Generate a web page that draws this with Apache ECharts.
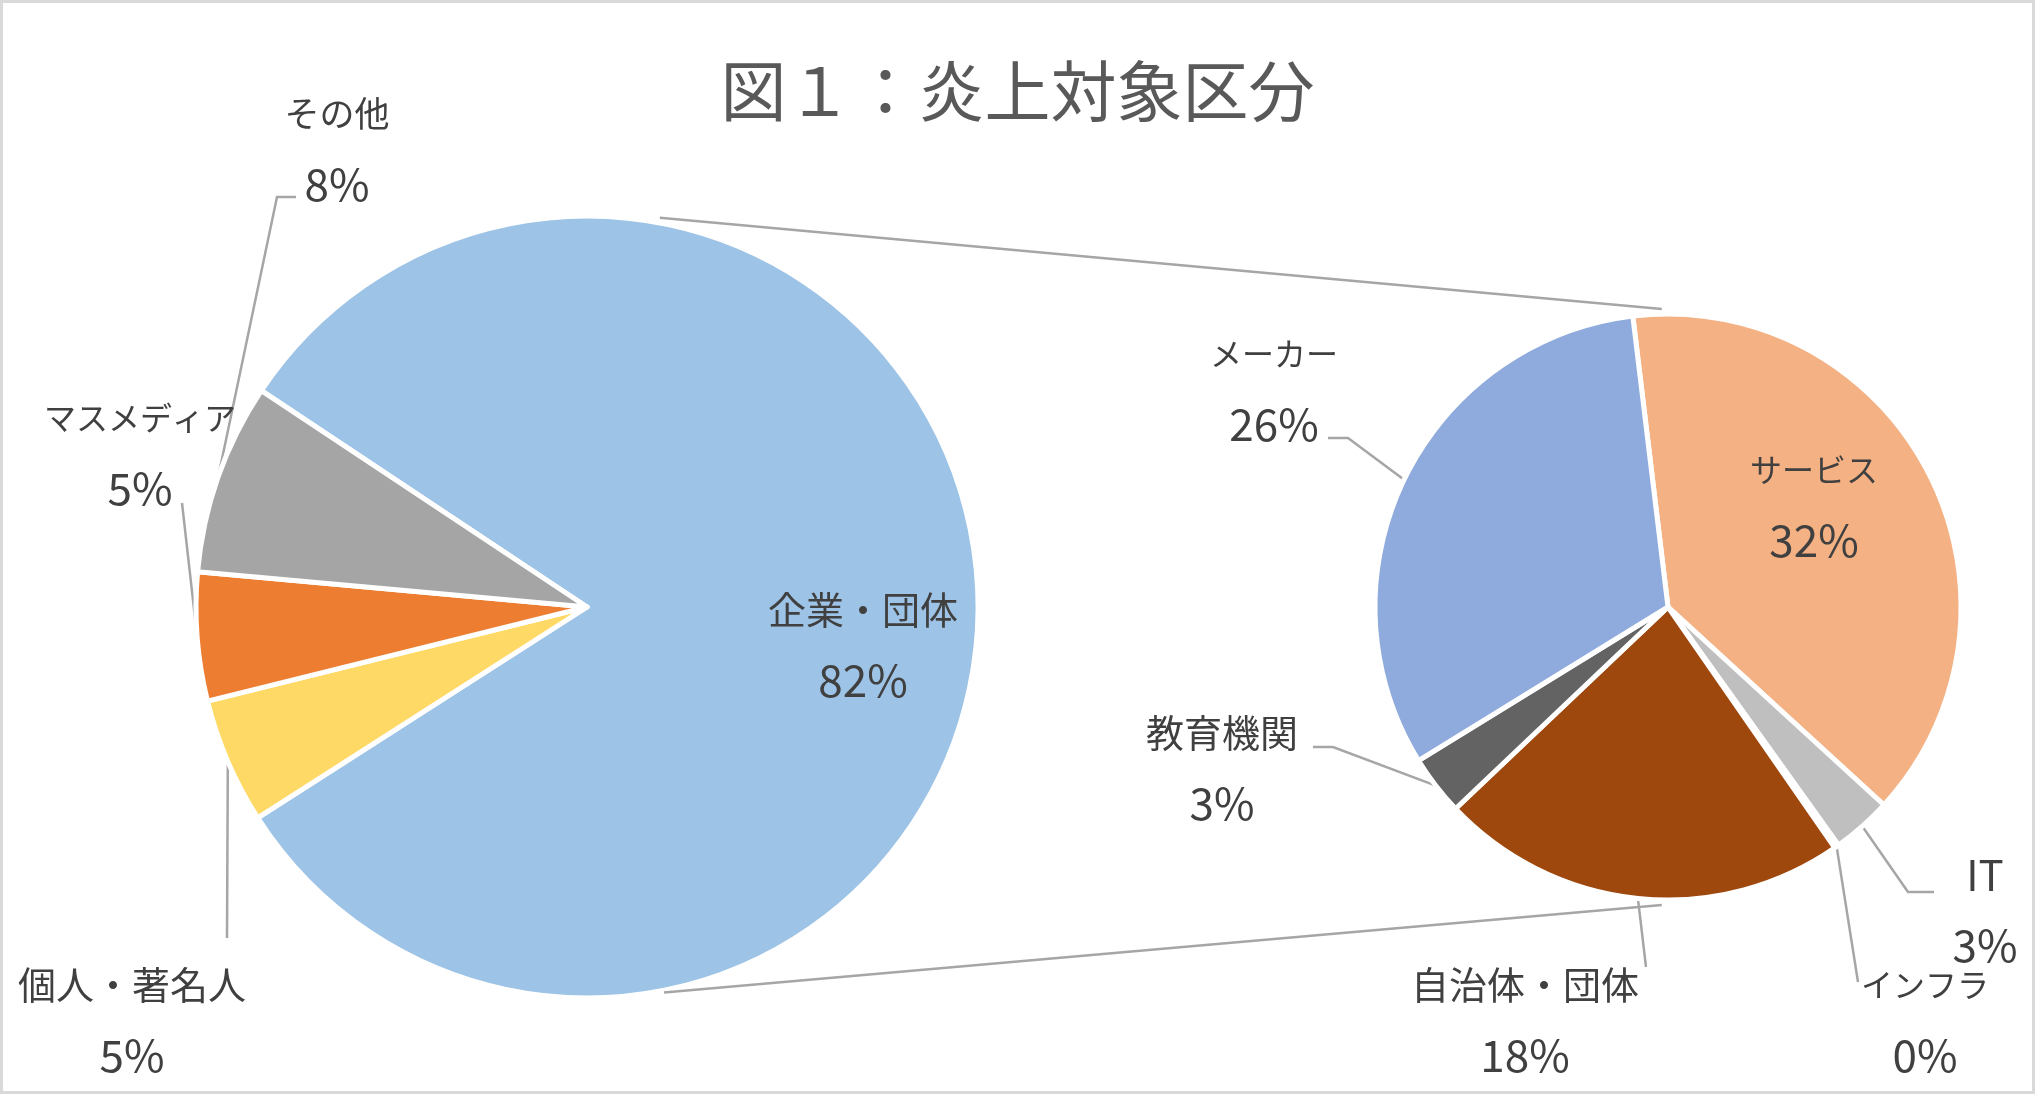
<!DOCTYPE html>
<html>
<head>
<meta charset="utf-8">
<script src="https://cdn.jsdelivr.net/npm/echarts@6/dist/echarts.min.js"></script>
<style>
  html, body { margin: 0; padding: 0; background: #fff; }
  #chart { width: 2035px; height: 1094px; }
</style>
</head>
<body>
<div id="chart"></div>
<script>
// ---------- data ----------
const titleText = '図１：炎上対象区分';
const mainCategories = ['企業・団体', '個人・著名人', 'マスメディア', 'その他'];
const mainValues = [81.6, 5.2, 5.3, 7.9];
const subCategories = ['サービス', 'IT', 'インフラ', '自治体・団体', '教育機関', 'メーカー'];
const subValues = [31.6, 2.7, 0.2, 18.4, 2.7, 26.0];

// ---------- styles / layout ----------
const colors = {
  '企業・団体': '#9DC3E6', '個人・著名人': '#FFD966', 'マスメディア': '#ED7D31', 'その他': '#A5A5A5',
  'サービス': '#F4B183', 'IT': '#BFBFBF', 'インフラ': '#997300', '自治体・団体': '#9E480E',
  '教育機関': '#636363', 'メーカー': '#8FAADC'
};
const insideLabels = ['企業・団体', 'サービス'];
const FONT = '"Noto Sans CJK JP", "Noto Sans", sans-serif';
const LEFT = { cx: 587, cy: 607, r: 391, start: 146.4 };
const RIGHT = { cx: 1668, cy: 607, r: 293, start: 96.9 };
// label block centres
const labelPos = {
  '企業・団体': [863, 645], 'その他': [337, 149], 'マスメディア': [140, 453], '個人・著名人': [132, 1020],
  'サービス': [1814, 505], 'メーカー': [1274, 389], '教育機関': [1222, 768],
  '自治体・団体': [1525, 1020], 'インフラ': [1925, 1020], 'IT': [1985, 910]
};
// leader-line points after the slice anchor
const linePts = {
  'その他': [[277, 197], [296, 197]],
  'マスメディア': [[182, 503]],
  '個人・著名人': [[227, 938]],
  'メーカー': [[1348, 438], [1328, 438]],
  '教育機関': [[1333, 747], [1313, 747]],
  '自治体・団体': [[1646, 967]],
  'インフラ': [[1858, 982]],
  'IT': [[1908, 892], [1934, 892]]
};

const grandTotal = mainValues.reduce((a, b) => a + b, 0);

// name-line text style chosen by script (kana-only names were narrower in the original font)
function nameStyle(name) {
  if (/^[\u30A0-\u30FF]+$/.test(name)) return 'a';
  if (/[\u3040-\u309F]/.test(name)) return 'h';
  if (/^[A-Za-z]+$/.test(name)) return 'l';
  return 'k';
}

function sliceMid(geo, values, idx) {
  const total = values.reduce((a, b) => a + b, 0);
  let acc = 0;
  for (let i = 0; i < idx; i++) acc += values[i];
  const midDeg = geo.start - (acc + values[idx] / 2) / total * 360;
  const rad = midDeg * Math.PI / 180;
  const rr = geo.r - 2;
  return [geo.cx + rr * Math.cos(rad), geo.cy - rr * Math.sin(rad)];
}

function buildData(cats, vals) {
  return cats.map((name, i) => {
    const inside = insideLabels.indexOf(name) >= 0;
    return {
      name: name,
      value: vals[i],
      itemStyle: { color: colors[name] },
      label: { position: inside ? 'inside' : 'outside' },
      labelLine: { show: !inside }
    };
  });
}

function makeLayout(cats, vals, geo) {
  return function (params) {
    const name = cats[params.dataIndex];
    const pos = labelPos[name];
    const res = { x: pos[0], y: pos[1], align: 'center', verticalAlign: 'middle' };
    if (linePts[name]) {
      let p0 = params.labelLinePoints && params.labelLinePoints[0];
      if (!p0) p0 = sliceMid(geo, vals, params.dataIndex);
      res.labelLinePoints = [p0].concat(linePts[name]);
    }
    return res;
  };
}

const txt = { fontFamily: FONT, color: '#404040', lineHeight: 70 };
function pieSeries(cats, vals, geo) {
  return {
    type: 'pie',
    center: [geo.cx, geo.cy],
    radius: geo.r,
    startAngle: geo.start,
    clockwise: true,
    avoidLabelOverlap: false,
    animation: false,
    silent: true,
    itemStyle: { borderColor: '#ffffff', borderWidth: 5 },
    emphasis: { disabled: true },
    label: {
      show: true,
      fontFamily: FONT,
      fontSize: 40,
      lineHeight: 70,
      color: '#404040',
      formatter: function (p) {
        return '{' + nameStyle(p.name) + '|' + p.name + '}\n{p|' +
          Math.round(p.value / grandTotal * 100) + '%}';
      },
      rich: {
        k: Object.assign({ fontSize: 38 }, txt),
        a: Object.assign({ fontSize: 32 }, txt),
        h: Object.assign({ fontSize: 35 }, txt),
        l: Object.assign({ fontSize: 42 }, txt),
        p: Object.assign({ fontSize: 44 }, txt)
      }
    },
    labelLine: { show: true, length: 10, length2: 10, lineStyle: { color: '#A6A6A6', width: 2.5 } },
    labelLayout: makeLayout(cats, vals, geo),
    data: buildData(cats, vals)
  };
}

function polar(geo, r, deg) {
  const rad = deg * Math.PI / 180;
  return [geo.cx + r * Math.cos(rad), geo.cy - r * Math.sin(rad)];
}
const cTopA = polar(LEFT, LEFT.r + 5, 79.4);
const cTopB = polar(RIGHT, RIGHT.r + 5, 91.2);
const cBotA = polar(LEFT, LEFT.r + 2, -78.7);
const cBotB = polar(RIGHT, RIGHT.r + 5, -91.2);

const chart = echarts.init(document.getElementById('chart'), null, { renderer: 'canvas' });
chart.setOption({
  backgroundColor: '#ffffff',
  animation: false,
  title: {
    text: titleText,
    left: 'center',
    top: 53,
    textStyle: { fontFamily: FONT, fontSize: 66, fontWeight: 'normal', color: '#595959' }
  },
  graphic: [
    { type: 'rect', shape: { x: 1.5, y: 1.5, width: 2032, height: 1091 }, style: { fill: null, stroke: '#D9D9D9', lineWidth: 3 }, silent: true },
    { type: 'line', shape: { x1: cTopA[0], y1: cTopA[1], x2: cTopB[0], y2: cTopB[1] }, style: { stroke: '#A6A6A6', lineWidth: 2.5 }, silent: true, z: 10 },
    { type: 'line', shape: { x1: cBotA[0], y1: cBotA[1], x2: cBotB[0], y2: cBotB[1] }, style: { stroke: '#A6A6A6', lineWidth: 2.5 }, silent: true, z: 10 }
  ],
  series: [
    pieSeries(mainCategories, mainValues, LEFT),
    pieSeries(subCategories, subValues, RIGHT)
  ]
});
</script>
</body>
</html>
